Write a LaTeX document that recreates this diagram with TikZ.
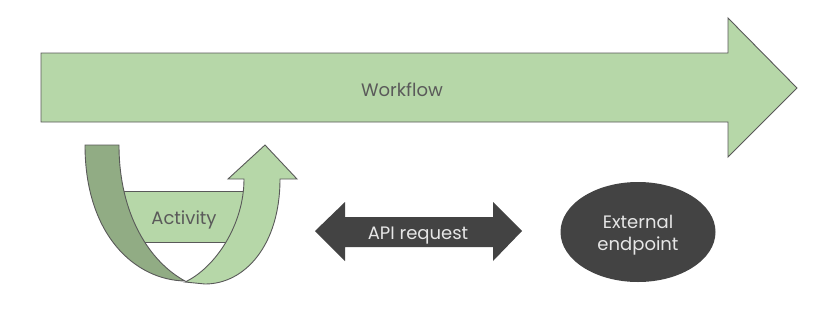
\documentclass[tikz,border=0pt]{standalone}
\usepackage{fontspec}
\usetikzlibrary{shapes.geometric}
\setmainfont{Poppins}
\definecolor{leaf}{HTML}{B6D7A8}
\definecolor{leafdark}{HTML}{91AC84}
\definecolor{edge}{HTML}{595959}
\definecolor{slate}{HTML}{434343}
\definecolor{ink}{HTML}{5A5A5A}
\definecolor{paper}{HTML}{E6E6E6}
\tikzset{
  greenshape/.style={fill=leaf, draw=edge, line width=0.9pt, line join=miter},
  shadeshape/.style={fill=leafdark, draw=edge, line width=0.9pt},
  darkshape/.style={fill=slate, draw=none},
  textlabel/.style={font=\fontsize{18}{22}\selectfont, text=ink, align=center,
    inner sep=0pt, anchor=base},
  lightlabel/.style={textlabel, text=paper},
}
\begin{document}
\begin{tikzpicture}[x=1pt,y=-1pt]
  \useasboundingbox (0,0) rectangle (838,319);

  % workflow block arrow
  \draw[greenshape] (41,53) -- (728,53) -- (728,18) -- (797,88) -- (728,157)
    -- (728,122) -- (41,122) -- cycle;
  \node[textlabel] (workflow) at (402,96) {Workflow};

  % activity band behind the u-turn
  \draw[greenshape] (115,191) rectangle (250,242);
  \node[textlabel] (activity) at (184,224) {Activity};

  % rising front half of the u-turn arrow with its head
  \draw[greenshape] (185,282)
    .. controls (215,268) and (244,225) .. (244,179)
    -- (228,179) -- (265,145) -- (297,179) -- (280,179)
    .. controls (280,245) and (245,284) .. (205,284)
    -- cycle;
  % shaded back half of the u-turn
  \draw[shadeshape] (85,145) -- (119,145)
    .. controls (119,215) and (150,262) .. (185,281)
    .. controls (135,280) and (85,235) .. (85,145) -- cycle;

  % two-way request arrow
  \fill[darkshape] (315,231) -- (345,202) -- (345,217) -- (493,217) -- (493,202)
    -- (522,231) -- (493,261) -- (493,247) -- (345,247) -- (345,261) -- cycle;
  \node[lightlabel] (api) at (418,239) {API request};

  % external endpoint
  \node[ellipse, fill=slate, minimum width=155pt, minimum height=100pt,
        inner sep=0pt] (endpoint) at (638,232) {};
  \node[lightlabel] (endtop) at (638,228) {External};
  \node[lightlabel] (endbottom) at (638,250) {endpoint};
\end{tikzpicture}
\end{document}
